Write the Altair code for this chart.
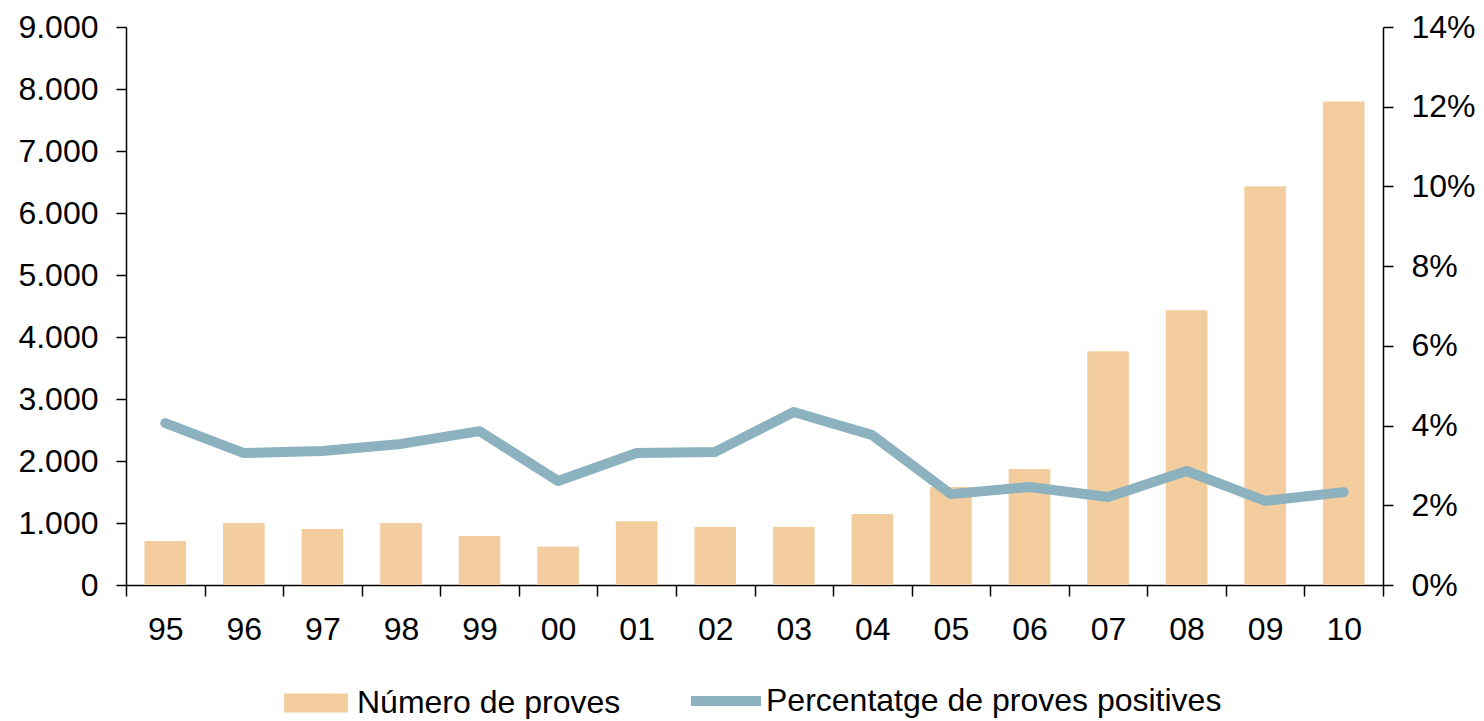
import altair as alt
import pandas as pd

anys = ["95", "96", "97", "98", "99", "00", "01", "02", "03", "04", "05", "06", "07", "08", "09", "10"]
proves = [710, 1000, 905, 1000, 790, 615, 1030, 935, 935, 1145, 1580, 1870, 3770, 4430, 6430, 7800]
percentatge = [4.06, 3.31, 3.36, 3.54, 3.86, 2.61, 3.31, 3.34, 4.34, 3.76, 2.28, 2.46, 2.21, 2.86, 2.11, 2.33]
left_ticks = [0, 1000, 2000, 3000, 4000, 5000, 6000, 7000, 8000, 9000]
right_ticks = [0, 2, 4, 6, 8, 10, 12, 14]
serie_barres = "Número de proves"
serie_linia = "Percentatge de proves positives"

BAR_COLOR = "#F3CD9D"
LINE_COLOR = "#8CB1BF"
FONT = "Liberation Sans"
FS = 32

df = pd.DataFrame({"any": anys, "proves": proves, "pct": percentatge})

x = alt.X(
    "any:N",
    sort=anys,
    scale=alt.Scale(paddingInner=0, paddingOuter=0),
    axis=alt.Axis(title=None, tickBand="extent", labelAngle=0, tickSize=11,
                  labelPadding=18, labelFontSize=FS),
)

bars = alt.Chart(df).transform_calculate(serie=f"'{serie_barres}'").mark_bar(
    color=BAR_COLOR, width=alt.RelativeBandSize(0.53)
).encode(
    x=x,
    y=alt.Y("proves:Q", scale=alt.Scale(domain=[0, 9000], nice=False),
            axis=alt.Axis(title=None, values=left_ticks, tickSize=10, labelPadding=18,
                          labelExpr="replace(format(datum.value, ',d'), ',', '.')")),
    color=alt.Color("serie:N", scale=alt.Scale(domain=[serie_barres], range=[BAR_COLOR]),
                    legend=alt.Legend(title=None, orient="none", legendX=157, legendY=643,
                                      symbolType="M-1,-0.3H1V0.3H-1Z", symbolSize=4096,
                                      symbolOpacity=1, labelOffset=8, labelLimit=700)),
)

line = alt.Chart(df).transform_calculate(serie=f"'{serie_linia}'").mark_line(
    strokeWidth=10, strokeCap="round", strokeJoin="round"
).encode(
    x=x,
    y=alt.Y("pct:Q", scale=alt.Scale(domain=[0, 14], nice=False),
            axis=alt.Axis(title=None, orient="right", values=right_ticks, tickSize=10,
                          labelPadding=18, labelExpr="format(datum.value, 'd') + '%'")),
    color=alt.Color("serie:N", scale=alt.Scale(domain=[serie_linia], range=[LINE_COLOR]),
                    legend=alt.Legend(title=None, orient="none", legendX=560, legendY=634,
                                      symbolType="stroke", symbolSize=4900,
                                      symbolStrokeWidth=10, labelOffset=0, labelLimit=700)),
)

chart = alt.layer(bars, line).resolve_scale(y="independent", color="independent").properties(
    width=1257, height=558,
    autosize=alt.AutoSizeParams(type="none"),
    padding={"left": 118, "top": 19, "right": 93, "bottom": 134},
).configure_view(stroke=None).configure_axis(
    grid=False, labelFont=FONT, labelFontSize=FS, labelColor="black",
    domainColor="black", tickColor="black", domainWidth=1.5, tickWidth=1.5,
).configure_legend(
    labelFont=FONT, labelFontSize=FS, labelColor="black", padding=0,
)

chart.save("out.html", embed_options={"renderer": "svg", "actions": False})
